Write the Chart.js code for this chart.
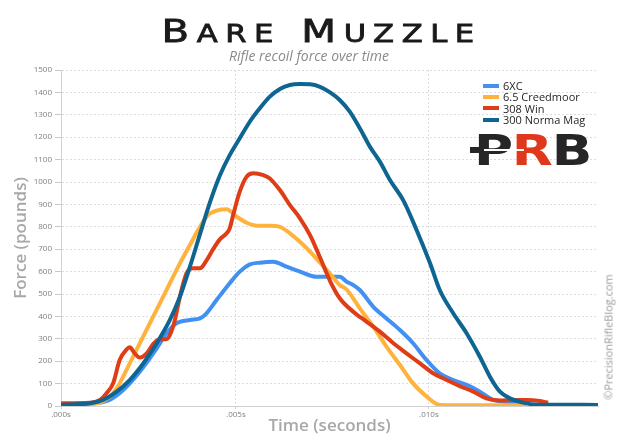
<!DOCTYPE html>
<html>
<head>
<meta charset="utf-8">
<script src="https://cdn.jsdelivr.net/npm/chart.js@4.4.0/dist/chart.umd.min.js"></script>
<style>
  html, body { margin: 0; padding: 0; background: #fff; }
  #wrap { position: relative; width: 618px; height: 440px; overflow: hidden; }
  #chart { position: absolute; left: 0; top: 0; }
  #title { position: absolute; left: 0; top: 11px; width: 618px; text-align: center;
           font-family: "DejaVu Sans", sans-serif; font-weight: normal; font-size: 32px;
           line-height: 40px; letter-spacing: 6px; color: #1a1a1a; padding-left: 20px; box-sizing: border-box;
           transform: scaleX(1.26); transform-origin: 309px 20px; -webkit-text-stroke: 0.8px #1a1a1a; }
  #title .sc { text-transform: uppercase; font-size: 0.76em; }
  #subtitle { position: absolute; left: 0; top: 47px; width: 618px; text-align: center;
              font-family: "Open Sans", sans-serif; font-style: italic; font-size: 14px;
              color: #8a8a8a; line-height: 18px; }
  #legend { position: absolute; left: 483px; top: 80px; font-family: "Open Sans", sans-serif;
            font-size: 11px; color: #262626; }
  #legend .row { height: 11.3px; line-height: 11.3px; white-space: nowrap; display: flex; align-items: center; }
  #legend .sw { display: inline-block; width: 16px; height: 4px; margin-right: 4px; }
  #logo { position: absolute; left: 474px; top: 130px; font-family: "DejaVu Sans", sans-serif;
          font-weight: bold; font-size: 42px; line-height: 42px; letter-spacing: -1px;
          transform: scaleX(1.27); transform-origin: left top; color: #262626; }
  #logo .r { color: #e0381c; }
  #stock { position: absolute; left: 470px; top: 147px; width: 14px; height: 6px; background: #262626; }
  #bore { position: absolute; left: 484px; top: 149px; width: 40px; height: 2px; background: #fff; }
  #copy { position: absolute; left: 608px; top: 337px; transform: translate(-50%, -50%) rotate(-90deg);
          font-family: "Open Sans", sans-serif; font-size: 11px; color: #9a9a9a; white-space: nowrap; }
</style>
</head>
<body>
<div id="wrap">
  <canvas id="chart" width="618" height="440"></canvas>
  <div id="title"><span>B</span><span class="sc">are</span> <span>M</span><span class="sc">uzzle</span></div>
  <div id="subtitle">Rifle recoil force over time</div>
  <div id="legend"></div>
  <div id="logo">P<span class="r">R</span>B</div>
  <div id="stock"></div>
  <div id="bore"></div>
  <div id="copy">©PrecisionRifleBlog.com</div>
</div>
<script>
// Recoil force traces: time in milliseconds, force in pounds
const seriesNames = ['6XC', '6.5 Creedmoor', '308 Win', '300 Norma Mag'];
const seriesColors = ['#4190f2', '#ffb23c', '#df3d16', '#0e6591'];

const time6XC = [0.47, 1.22, 1.48, 1.74, 2.08, 2.51, 2.95, 3.20, 3.46, 3.81, 4.07, 4.24, 4.50, 4.84, 5.10, 5.36, 5.62, 5.97, 6.31, 6.66, 7.09, 7.35, 7.52, 7.69, 7.87, 8.04, 8.21, 8.56, 8.90, 9.25, 9.59, 9.94, 10.28, 10.63, 10.98, 11.32, 11.67, 12.01, 12.53];
const force6XC = [8, 10, 15, 28, 71, 153, 257, 324, 369, 384, 391, 414, 473, 548, 600, 632, 640, 644, 622, 600, 577, 577, 577, 577, 555, 540, 518, 443, 391, 339, 280, 205, 146, 116, 94, 64, 27, 19, 10];

const timeCreed = [0.47, 1.22, 1.48, 1.74, 1.82, 1.99, 2.25, 2.51, 2.77, 3.03, 3.29, 3.55, 3.81, 4.07, 4.28, 4.50, 4.76, 5.02, 5.28, 5.54, 5.88, 6.14, 6.40, 6.66, 6.92, 7.18, 7.44, 7.69, 7.87, 8.21, 8.56, 8.90, 9.25, 9.59, 9.94, 10.20, 10.40, 12.53];
const forceCreed = [8, 10, 15, 42, 57, 101, 190, 280, 369, 458, 548, 637, 719, 800, 853, 872, 878, 845, 818, 805, 805, 800, 771, 733, 689, 640, 590, 540, 520, 436, 354, 265, 183, 101, 42, 9, 3, 3];

const time308 = [0.47, 1.22, 1.48, 1.65, 1.82, 1.99, 2.17, 2.25, 2.38, 2.51, 2.69, 2.86, 3.03, 3.20, 3.29, 3.42, 3.55, 3.72, 3.89, 4.07, 4.24, 4.41, 4.59, 4.76, 4.84, 4.93, 5.10, 5.28, 5.45, 5.71, 5.88, 6.14, 6.40, 6.66, 6.92, 7.18, 7.44, 7.69, 8.04, 8.39, 8.73, 9.08, 9.42, 9.77, 10.11, 10.46, 10.80, 11.15, 11.49, 11.84, 12.19, 12.53, 12.88, 13.09];
const force308 = [12, 14, 27, 57, 101, 205, 253, 262, 235, 216, 235, 277, 298, 298, 317, 384, 488, 592, 615, 615, 650, 700, 745, 771, 793, 853, 957, 1024, 1039, 1031, 1016, 964, 897, 838, 763, 663, 558, 481, 421, 376, 332, 280, 235, 190, 146, 116, 89, 64, 34, 24, 27, 27, 22, 15];

const timeNorma = [0.47, 1.22, 1.56, 1.91, 2.25, 2.60, 2.95, 3.29, 3.55, 3.81, 4.07, 4.33, 4.59, 4.84, 5.10, 5.36, 5.62, 5.88, 6.14, 6.40, 6.66, 6.92, 7.18, 7.44, 7.69, 7.95, 8.21, 8.47, 8.73, 8.99, 9.33, 9.68, 10.03, 10.28, 10.63, 10.98, 11.32, 11.58, 11.84, 12.10, 12.44, 12.80, 14.38];
const forceNorma = [5, 12, 27, 64, 116, 190, 280, 384, 488, 622, 767, 910, 1031, 1120, 1195, 1269, 1329, 1381, 1415, 1433, 1437, 1436, 1425, 1400, 1366, 1314, 1240, 1158, 1091, 1009, 920, 786, 637, 518, 414, 324, 220, 131, 64, 34, 15, 6, 5];

// Axis ticks
const xTickValues = [0.47, 5, 10];
const xTickLabels = ['.000s', '.005s', '.010s'];
const yMin = 0, yMax = 1500, yStep = 100;

const seriesTimes = [time6XC, timeCreed, time308, timeNorma];
const seriesForces = [force6XC, forceCreed, force308, forceNorma];

const datasets = seriesNames.map((name, i) => ({
  label: name,
  data: seriesTimes[i].map((t, k) => ({ x: t, y: seriesForces[i][k] })),
  borderColor: seriesColors[i],
  backgroundColor: seriesColors[i],
  borderWidth: 4,
  pointRadius: 0,
  fill: false,
  cubicInterpolationMode: 'monotone',
  order: seriesNames.length - i
}));

// legend rows
const legend = document.getElementById('legend');
seriesNames.forEach((name, i) => {
  const row = document.createElement('div');
  row.className = 'row';
  const sw = document.createElement('span');
  sw.className = 'sw';
  sw.style.background = seriesColors[i];
  row.appendChild(sw);
  row.appendChild(document.createTextNode(name));
  legend.appendChild(row);
});

const gridColor = '#dcdcdc';
const tickFont = { family: 'Open Sans', size: 8 };
const titleFont = { family: 'Open Sans', size: 17, weight: '600' };

new Chart(document.getElementById('chart'), {
  type: 'line',
  data: { datasets },
  options: {
    responsive: false,
    animation: false,
    layout: { padding: { top: 70, right: 20, left: 0, bottom: 0 } },
    plugins: { legend: { display: false }, tooltip: { enabled: false } },
    scales: {
      x: {
        type: 'linear',
        min: xTickValues[0],
        max: 14.38,
        afterBuildTicks: (s) => { s.ticks = xTickValues.map(v => ({ value: v })); },
        afterFit: (s) => { s.height = 34; },
        ticks: {
          autoSkip: false,
          maxRotation: 0,
          padding: 1,
          color: '#7f7f7f',
          font: tickFont,
          callback: (v, i) => xTickLabels[i]
        },
        grid: { color: gridColor, lineWidth: 1, tickLength: 3, tickColor: '#cfcfcf' },
        border: { display: true, color: '#d0d0d0', width: 1, dash: [2, 2] },
        title: { display: true, text: 'Time (seconds)', color: '#a8a8a8', font: titleFont, padding: { top: 0, bottom: 4 } }
      },
      y: {
        min: yMin,
        max: yMax,
        afterFit: (s) => { s.width = 61; },
        ticks: { stepSize: yStep, padding: 3, color: '#7f7f7f', font: tickFont, callback: (v) => String(v) },
        grid: { color: gridColor, lineWidth: 1, tickLength: 6, tickColor: '#c8c8c8' },
        border: { display: true, color: '#d0d0d0', width: 1, dash: [2, 2] },
        title: { display: true, text: 'Force (pounds)', color: '#a8a8a8', font: titleFont, padding: { top: 11, bottom: 0 } }
      }
    }
  }
});
</script>
</body>
</html>
